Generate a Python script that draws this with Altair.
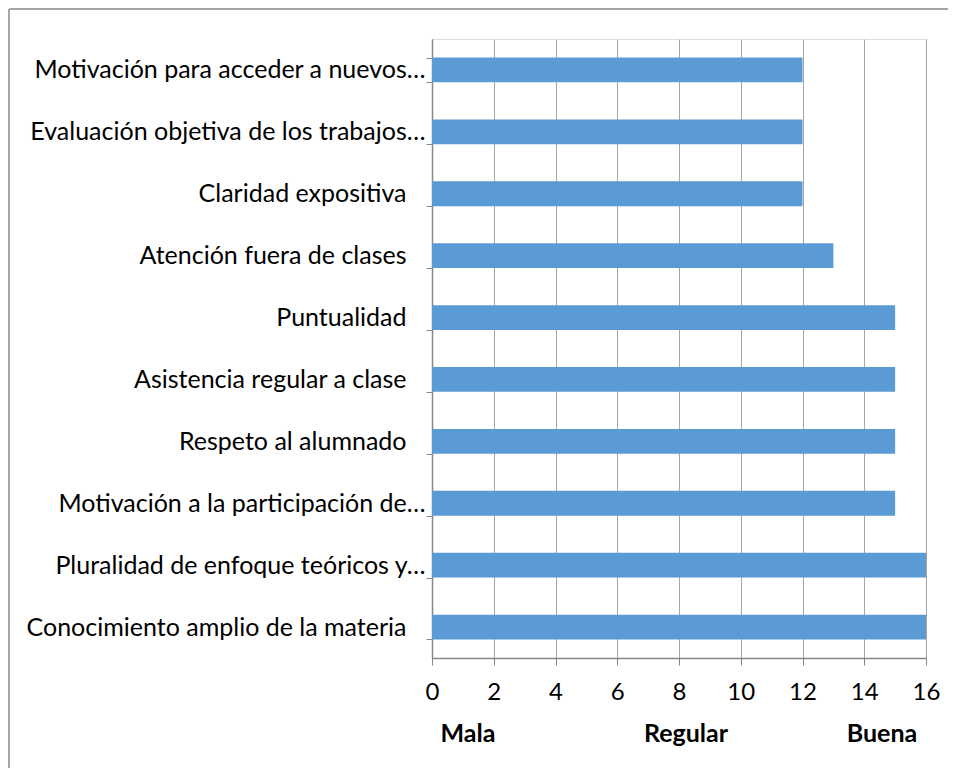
import altair as alt
import pandas as pd

categories = [
    "Motivación para acceder a nuevos…",
    "Evaluación objetiva de los trabajos…",
    "Claridad expositiva",
    "Atención fuera de clases",
    "Puntualidad",
    "Asistencia regular a clase",
    "Respeto al alumnado",
    "Motivación a la participación de…",
    "Pluralidad de enfoque teóricos y…",
    "Conocimiento amplio de la materia",
]
values = [12, 12, 12, 13, 15, 15, 15, 15, 16, 16]
x_ticks = [0, 2, 4, 6, 8, 10, 12, 14, 16]
scale_words = ["Mala", "Regular", "Buena"]

df = pd.DataFrame({"cat": categories, "val": values})

FONT = "Lato"
W, H = 494, 619

bars = alt.Chart(df).mark_bar(color="#5B9BD5").encode(
    x=alt.X(
        "val:Q",
        scale=alt.Scale(domain=[0, 16], nice=False),
        axis=alt.Axis(
            values=x_ticks,
            title=None,
            grid=True,
            gridColor="#a6a6a6",
            gridWidth=1,
            domainColor="#868686",
            domainWidth=1.5,
            tickColor="#868686",
            tickSize=7,
            labelFont=FONT,
            labelFontSize=24,
            labelColor="#000000",
            labelPadding=15,
            labelFlush=False,
        ),
    ),
    y=alt.Y(
        "cat:N",
        sort=categories,
        scale=alt.Scale(paddingInner=0.6, paddingOuter=0.3),
        axis=alt.Axis(
            title=None,
            grid=False,
            tickBand="extent",
            domainColor="#868686",
            domainWidth=1.5,
            tickColor="#868686",
            tickSize=6,
            labelFont=FONT,
            labelFontSize=25,
            labelColor="#000000",
            labelPadding={
                "condition": {"test": "indexof(datum.label, '…') < 0", "value": 20},
                "value": 1,
            },
            labelLimit=0,
        ),
    ),
)

word_x = [36, 254, 450]
word_layers = []
for w, px in zip(scale_words, word_x):
    word_layers.append(
        alt.Chart(pd.DataFrame({"t": [w]})).mark_text(
            font=FONT, fontSize=25, fontWeight="bold", color="#000000",
            align="center", baseline="middle",
        ).encode(text="t:N", x=alt.value(px), y=alt.value(76 + H))
    )

border_top = alt.Chart(pd.DataFrame({"a": [0]})).mark_rule(
    color="#a6a6a6", strokeWidth=2, clip=False
).encode(x=alt.value(-423), x2=alt.value(W + 40), y=alt.value(-30))
border_left = alt.Chart(pd.DataFrame({"a": [0]})).mark_rule(
    color="#a6a6a6", strokeWidth=2, clip=False
).encode(x=alt.value(-423), y=alt.value(-30), y2=alt.value(H + 140))

chart = alt.layer(border_top, border_left, bars, *word_layers).properties(
    width=W,
    height=H,
    padding={"left": 424, "top": 31, "right": 22, "bottom": 110},
    autosize=alt.AutoSizeParams(type="none"),
).configure_view(stroke=None).configure(background="white")

chart.save("out.html", embed_options={"renderer": "svg", "actions": False})
